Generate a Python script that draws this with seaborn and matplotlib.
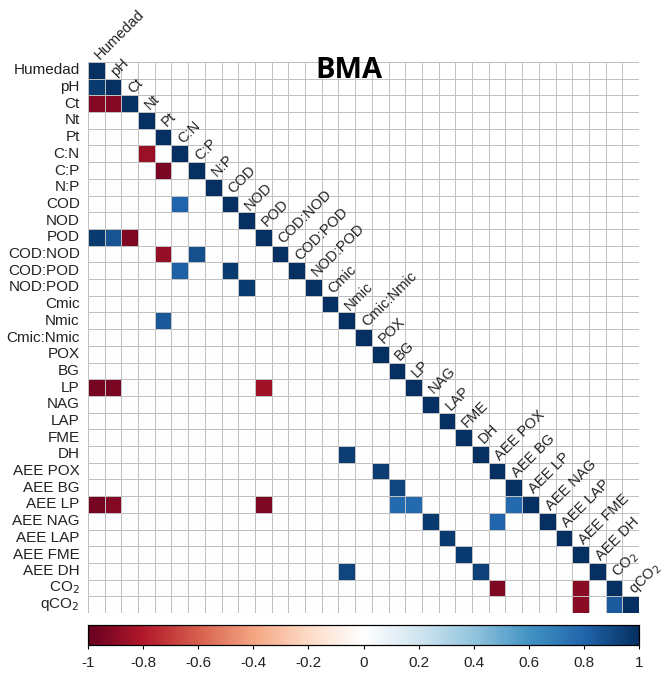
import numpy as np
import pandas as pd
import matplotlib
matplotlib.use("Agg")
import matplotlib.pyplot as plt
import seaborn as sns
from matplotlib.colors import LinearSegmentedColormap

# ---------------- data ----------------
variables = ["Humedad", "pH", "Ct", "Nt", "Pt", "C:N", "C:P", "N:P", "COD", "NOD",
             "POD", "COD:NOD", "COD:POD", "NOD:POD", "Cmic", "Nmic", "Cmic:Nmic",
             "POX", "BG", "LP", "NAG", "LAP", "FME", "DH", "AEE POX", "AEE BG",
             "AEE LP", "AEE NAG", "AEE LAP", "AEE FME", "AEE DH", "CO$_2$", "qCO$_2$"]

# significant correlations (row variable, column variable, r)
pair_rows = ["pH", "Ct", "Ct", "C:N", "C:P", "COD", "POD", "POD", "POD",
             "COD:NOD", "COD:NOD", "COD:POD", "COD:POD", "NOD:POD", "Nmic",
             "LP", "LP", "LP", "DH", "AEE POX", "AEE BG", "AEE LP", "AEE LP",
             "AEE LP", "AEE LP", "AEE LP", "AEE LP", "AEE NAG", "AEE NAG",
             "AEE LAP", "AEE FME", "AEE DH", "AEE DH", "CO$_2$", "CO$_2$",
             "qCO$_2$", "qCO$_2$"]
pair_cols = ["Humedad", "Humedad", "pH", "Nt", "Pt", "C:N", "Humedad", "pH", "Ct",
             "Pt", "C:P", "C:N", "COD", "NOD", "Pt",
             "Humedad", "pH", "POD", "Nmic", "POX", "BG", "Humedad", "pH",
             "POD", "BG", "LP", "AEE BG", "NAG", "AEE POX",
             "LAP", "FME", "Nmic", "DH", "AEE POX", "AEE FME",
             "AEE FME", "CO$_2$"]
pair_vals = [0.96, -0.92, -0.92, -0.86, -0.95, 0.80, 0.96, 0.86, -0.93,
             -0.88, 0.88, 0.82, 0.96, 0.96, 0.85,
             -0.96, -0.95, -0.85, 0.95, 0.95, 0.92, -0.96, -0.92,
             -0.94, 0.78, 0.78, 0.78, 0.96, 0.80,
             0.96, 0.96, 0.92, 0.93, -0.93, -0.90,
             -0.90, 0.84]

cbar_ticks = [-1, -0.8, -0.6, -0.4, -0.2, 0, 0.2, 0.4, 0.6, 0.8, 1]
cbar_labels = ["-1", "-0.8", "-0.6", "-0.4", "-0.2", "0", "0.2", "0.4", "0.6", "0.8", "1"]
title = "BMA"

# ---------------- matrix ----------------
n = len(variables)
mat = pd.DataFrame(np.zeros((n, n)), index=variables, columns=variables)
for v in variables:
    mat.loc[v, v] = 1.0
for r, c, val in zip(pair_rows, pair_cols, pair_vals):
    mat.loc[r, c] = val
mask = np.triu(np.ones((n, n), dtype=bool), k=1)

corr_cols = ["#67001F", "#B2182B", "#D6604D", "#F4A582", "#FDDBC7", "#FFFFFF",
             "#D1E5F0", "#92C5DE", "#4393C3", "#2166AC", "#053061"]
cmap = LinearSegmentedColormap.from_list("corrRdBu", corr_cols, N=256)

# ---------------- plot ----------------
sns.set_style("white")
plt.rcParams["font.family"] = ["Liberation Sans", "DejaVu Sans"]
plt.rcParams["axes.unicode_minus"] = False
txt_col = "#222222"

W, H = 663, 676
L, T, S = 88.0, 62.0, 551.0
fig = plt.figure(figsize=(W / 100, H / 100), dpi=100)
ax = fig.add_axes([L / W, 1 - (T + S) / H, S / W, S / H])
cax = fig.add_axes([L / W, 1 - 645 / H, S / W, 20 / H])

sns.heatmap(mat, mask=mask, cmap=cmap, vmin=-1, vmax=1, ax=ax, cbar_ax=cax,
            linewidths=0.5, linecolor="#c0c0c0",
            cbar_kws={"orientation": "horizontal", "ticks": cbar_ticks})

ax.set_xticks([])
ax.set_xlabel("")
ax.set_ylabel("")
ax.set_yticks(np.arange(n) + 0.5)
ax.set_yticklabels(variables, fontsize=11, rotation=0, color=txt_col)
ax.tick_params(axis="y", length=0, pad=6)
for s in ax.spines.values():
    s.set_visible(False)

for j, lab in enumerate(variables):
    ax.text(j + 0.7, j - 0.1, lab, rotation=45, rotation_mode="anchor",
            ha="left", va="baseline", fontsize=10.5, color=txt_col)

cax.set_xticks(cbar_ticks)
cax.set_xticklabels(cbar_labels, fontsize=11, color=txt_col)
cax.tick_params(axis="x", length=3, width=0.8, pad=5, colors="black",
                labelcolor=txt_col)
for s in cax.spines.values():
    s.set_visible(True)
    s.set_linewidth(0.8)
    s.set_edgecolor("black")

fig.text(349 / W, 1 - 70 / H, title, ha="center", va="center", fontsize=21,
         fontweight="bold", color="black", family=["Open Sans", "DejaVu Sans"])

fig.savefig("out.png", dpi=100, facecolor="white")
